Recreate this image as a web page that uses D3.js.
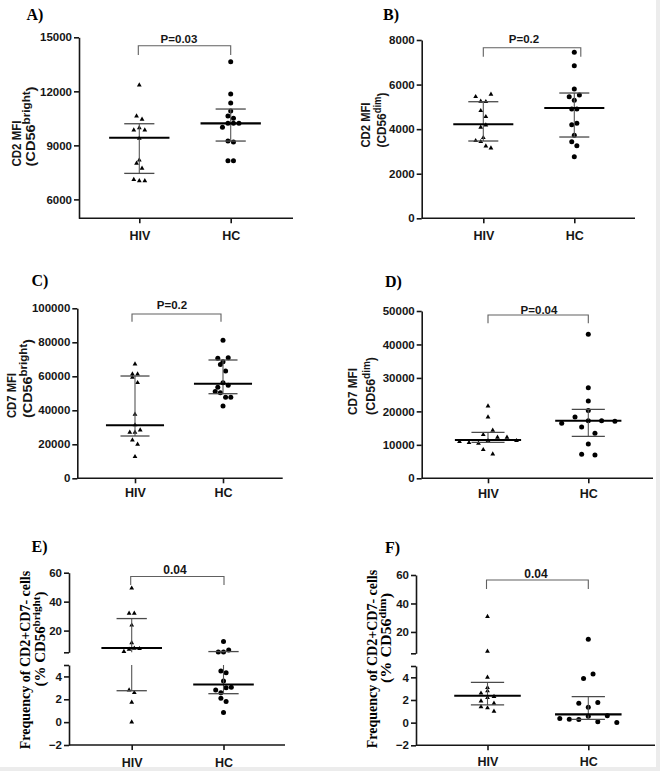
<!DOCTYPE html>
<html><head><meta charset="utf-8">
<script src="https://cdn.jsdelivr.net/npm/d3@7"></script>
<style>body{margin:0;background:#fff}svg{display:block}</style>
</head><body>
<svg id="c" width="660" height="771"></svg>
<script>
// ---------- data ----------
const groups = ["HIV", "HC"];

// A) CD2 MFI (CD56 bright)
const aTicks = [6000, 9000, 12000, 15000];
const aHIV = [12350, 10628, 10444, 9850, 9978, 9850, 9389, 8183, 8000, 7722, 7100, 7033, 7033];
const aHC = [13644, 11850, 11350, 10906, 10628, 10500, 10000, 10222, 10222, 10222, 9239, 9180, 8144, 8144];
const aMedian = [9422, 10222], aQ1 = [7444, 9239], aQ3 = [10200, 11017];
const aP = "P=0.03";

// B) CD2 MFI (CD56 dim)
const bTicks = [0, 2000, 4000, 6000, 8000];
const bHIV = [5455, 5249, 5231, 5563, 4827, 4558, 4082, 4185, 3616, 3481, 3436, 3243, 3154];
const bHC = [7447, 6846, 5800, 5455, 5300, 5531, 4900, 4900, 4199, 4262, 3723, 3436, 3257, 2763];
const bMedian = [4217, 4948], bQ1 = [3468, 3647], bQ3 = [5231, 5621];
const bP = "P=0.2";

// C) CD7 MFI (CD56 bright)
const cTicks = [0, 20000, 40000, 60000, 80000, 100000];
const cHIV = [67230, 61350, 61350, 59400, 56230, 37650, 31400, 27060, 27060, 28400, 22530, 20000, 12700];
const cHC = [81170, 70590, 68500, 70940, 67000, 63110, 53520, 56230, 54700, 51000, 50360, 47650, 47650, 42530];
const cMedian = [31170, 55650], cQ1 = [24880, 49760], cQ3 = [60170, 69590];
const cP = "P=0.2";

// D) CD7 MFI (CD56 dim)
const dTicks = [0, 10000, 20000, 30000, 40000, 50000];
const dHIV = [21610, 18320, 13030, 14350, 10940, 10640, 10450, 11240, 12250, 12250, 11240, 8550, 7260];
const dHC = [43040, 27080, 23100, 20300, 16440, 18320, 17220, 17220, 17040, 15330, 13500, 10250, 7170, 6960];
const dMedian = [11450, 17220], dQ1 = [10760, 12550], dQ3 = [13740, 20620];
const dP = "P=0.04";

// E) Frequency CD2+CD7- (% CD56 bright), broken axis
const brkTicksTop = [20, 40, 60], brkTicksBottom = [-2, 0, 2, 4];
const eHIV = [49.3, 31.9, 31.9, 23.7, 11.6, 5.5, 7.1, 7.8, 7.5, 2.81, 2.58, 1.74, 0];
const eHC = [12.5, 5.2, 5.2, 6.6, 4.47, 4.32, 3.6, 2.81, 2.58, 3.02, 3.05, 2.1, 1.8, 0.85];
const eMedian = [7.95, 3.29], eQ1 = [2.75, 2.49], eQ3 = [28.3, 5.5];
const eP = "0.04";

// F) Frequency CD2+CD7- (% CD56 dim), broken axis
const fHIV = [30.8, 6.4, 4.0, 3.1, 2.6, 2.8, 2.3, 1.9, 2.2, 1.7, 1.4, 1.3, 1.0];
const fHC = [14.8, 3.9, 4.3, 1.71, 1.36, 1.77, 0.37, 0.3, 0.28, 0.57, 0.07, 0.6, 0.02];
const fMedian = [2.37, 0.73], fQ1 = [1.56, 0.29], fQ3 = [3.55, 2.3];
const fP = "0.04";

// ---------- layout ----------
const panels = [
  {letter:"A)", lx:26.5, ly:20, hiv:aHIV, hc:aHC, med:aMedian, q1:aQ1, q3:aQ3, ticks:aTicks, p:aP,
   x0:79, x1:293, yTop:37.3, yBot:218.3, dom:[4950,15000], hivX:139.3, hcX:230.7, h:5.2, sp:[5.5,5.5],
   lab1:"CD2 MFI", sup:"bright", l1x:20.5, l2x:34.5, lStart:166.5, len1:46, len2:80,
   br:{y:45.7, d:9.3, x0:-1, x1:0}, pt:{x:179, y:43.3}, xlab:22},
  {letter:"B)", lx:383, ly:19.5, hiv:bHIV, hc:bHC, med:bMedian, q1:bQ1, q3:bQ3, ticks:bTicks, p:bP,
   x0:421.7, x1:635, yTop:40, yBot:218.3, dom:[0,8000], hivX:483.3, hcX:574.3, h:7.5, sp:[5.1,5.1],
   lab1:"CD2 MFI", sup:"dim", l1x:369.5, l2x:386, lStart:147.5, len1:45, len2:55,
   br:{y:47.7, d:9, x0:0, x1:6.5}, pt:{x:524, y:43.3}, xlab:22},
  {letter:"C)", lx:31.5, ly:286, hiv:cHIV, hc:cHC, med:cMedian, q1:cQ1, q3:cQ3, ticks:cTicks, p:cP,
   x0:77.3, x1:282.7, yTop:308.3, yBot:478.3, dom:[0,100000], hivX:135, hcX:223, h:7, sp:[5.2,5.2],
   lab1:"CD7 MFI", sup:"bright", l1x:16, l2x:31.5, lStart:418, len1:45, len2:79,
   br:{y:314, d:7.7, x0:-3, x1:-2}, pt:{x:172, y:309.3}, xlab:18.5},
  {letter:"D)", lx:385, ly:287, hiv:dHIV, hc:dHC, med:dMedian, q1:dQ1, q3:dQ3, ticks:dTicks, p:dP,
   x0:421.7, x1:653, yTop:311, yBot:478.3, dom:[0,50000], hivX:488, hcX:588.3, h:6.5, sp:[9.5,13.3],
   lab1:"CD7 MFI", sup:"dim", l1x:356.5, l2x:375, lStart:415, len1:47, len2:58,
   br:{y:315, d:8.3, x0:0, x1:0}, pt:{x:539, y:313.5}, xlab:20},
  {letter:"E)", lx:31.5, ly:551.5, hiv:eHIV, hc:eHC, med:eMedian, q1:eQ1, q3:eQ3, p:eP, broken:true,
   x0:69, x1:285, top:[652.3,572.7], bot:[745,665], hivX:131.7, hcX:223.5, h:5.5, sp:[5.2,5.2],
   sup:"bright", l1x:30, l2x:44.5, l1c:660, l2c:639, len2:95,
   br:{y:576.5, d:8.5, x0:-1, x1:0.5}, pt:{x:175, y:574}, xlab:21.5},
  {letter:"F)", lx:385, ly:552.5, hiv:fHIV, hc:fHC, med:fMedian, q1:fQ1, q3:fQ3, p:fP, broken:true,
   x0:416, x1:655, top:[653.3,575], bot:[745.3,666], hivX:487.5, hcX:588.3, h:6.6, sp:[6.5,9.5],
   sup:"dim", l1x:376.5, l2x:391, l1c:659, l2c:638, len2:90,
   br:{y:580, d:9, x0:-1, x1:0}, pt:{x:536, y:578.3}, xlab:21}
];

const BREAK = 5;
const svg = d3.select("#c");
svg.append("rect").attr("width",660).attr("height",771).attr("fill","#fff");
// faint scan margin at right and bottom edges
svg.append("rect").attr("x",656).attr("y",0).attr("width",4).attr("height",771).attr("fill","#ececec");
svg.append("rect").attr("x",0).attr("y",767).attr("width",660).attr("height",4).attr("fill","#ececec");

const SANS = "'Liberation Sans', Arial, Helvetica, sans-serif";
const SERIF = "'Liberation Serif', 'Times New Roman', serif";
const INK = "#161616";

function swarm(vals, yf, h, sp, cx) {
  const pts = vals.map((v, i) => ({v, i, y: yf(v)}));
  const sorted = pts.slice().sort((a, b) => (b.y - a.y) || (a.i - b.i));
  const bins = []; let cur = null;
  for (const p of sorted) {
    if (cur && cur.y0 - p.y <= h) cur.items.push(p);
    else { cur = {y0: p.y, items: [p]}; bins.push(cur); }
  }
  for (const b of bins) {
    b.items.sort((a, c) => a.i - c.i);
    const n = b.items.length;
    b.items.forEach((p, k) => p.x = cx + (k - (n - 1) / 2) * sp);
  }
  return pts;
}

const triPath = d3.symbol(d3.symbolTriangle, 10)();

panels.forEach(P => {
  const g = svg.append("g");
  let yf, yT, yB, yS;
  if (P.broken) {
    yT = d3.scaleLinear().domain([BREAK, 60]).range(P.top);
    yB = d3.scaleLinear().domain([-2, BREAK]).range(P.bot);
    yf = v => v >= BREAK ? yT(v) : yB(v);
  } else {
    yS = d3.scaleLinear().domain(P.dom).range([P.yBot, P.yTop]);
    yf = yS;
  }
  const xAxisY = P.broken ? P.bot[0] : P.yBot;
  const x = d3.scalePoint().domain(groups).range([P.hivX, P.hcX]);
  const step = P.hcX - P.hivX;

  const styleAxis = sel => {
    sel.selectAll(".domain").attr("stroke", INK).attr("stroke-width", 1.6);
    sel.selectAll(".tick line").attr("stroke", INK).attr("stroke-width", 1.6);
    sel.selectAll(".tick text").attr("fill", INK).style("font-family", SANS)
      .style("font-weight", "bold").style("font-size", "11.5px");
  };
  if (P.broken) {
    const at = d3.axisLeft(yT).tickValues([BREAK].concat(brkTicksTop)).tickSize(5).tickPadding(2)
      .tickSizeOuter(0).tickFormat(d => d === BREAK ? "" : d3.format("d")(d));
    const ab = d3.axisLeft(yB).tickValues(brkTicksBottom.concat([BREAK])).tickSize(5).tickPadding(2)
      .tickSizeOuter(0).tickFormat(d => d === BREAK ? "" : d3.format("d")(d));
    g.append("g").attr("transform", `translate(${P.x0},0)`).call(at).call(styleAxis);
    g.append("g").attr("transform", `translate(${P.x0},0)`).call(ab).call(styleAxis);
  } else {
    const ay = d3.axisLeft(yS).tickValues(P.ticks).tickSize(5).tickPadding(2).tickSizeOuter(0)
      .tickFormat(d3.format("d"));
    g.append("g").attr("transform", `translate(${P.x0},0)`).call(ay).call(styleAxis);
  }

  const ax = d3.axisBottom(x).tickSize(5).tickSizeOuter(0);
  const gx = g.append("g").attr("transform", `translate(0,${xAxisY})`).call(ax).call(styleAxis);
  gx.select(".domain").attr("d", `M${P.x0},0H${P.x1}`);
  gx.selectAll(".tick text").attr("y", P.xlab).attr("dy", null).style("font-size", "12.5px");

  [P.hiv, P.hc].forEach((vals, gi) => {
    const pts = swarm(vals, yf, P.h, P.sp[gi], x(groups[gi]));
    if (gi === 0) {
      g.append("g").selectAll("path").data(pts).join("path")
        .attr("d", triPath).attr("transform", d => `translate(${d.x},${d.y})`).attr("fill", "#000");
    } else {
      g.append("g").selectAll("circle").data(pts).join("circle")
        .attr("cx", d => d.x).attr("cy", d => d.y).attr("r", 2.5).attr("fill", "#000");
    }
  });

  groups.forEach((grp, gi) => {
    const cx = x(grp);
    const q1 = P.q1[gi], q3 = P.q3[gi], md = P.med[gi];
    const segs = [];
    if (P.broken && q1 < BREAK && q3 >= BREAK) {
      segs.push([yB(q1), yB(BREAK)]); segs.push([yT(BREAK), yT(q3)]);
    } else segs.push([yf(q1), yf(q3)]);
    segs.forEach(s => g.append("line").attr("x1", cx).attr("x2", cx).attr("y1", s[0]).attr("y2", s[1])
      .attr("stroke", "#555").attr("stroke-width", 1.1));
    [q1, q3].forEach(q => g.append("line").attr("x1", cx - 0.165 * step).attr("x2", cx + 0.165 * step)
      .attr("y1", yf(q)).attr("y2", yf(q)).attr("stroke", "#4a4a4a").attr("stroke-width", 1.3));
    g.append("line").attr("x1", cx - 0.33 * step).attr("x2", cx + 0.33 * step)
      .attr("y1", yf(md)).attr("y2", yf(md)).attr("stroke", "#000").attr("stroke-width", 2.1);
  });

  const bx0 = P.hivX + P.br.x0, bx1 = P.hcX + P.br.x1;
  g.append("path").attr("d", `M${bx0},${P.br.y + P.br.d}V${P.br.y}H${bx1}V${P.br.y + P.br.d}`)
    .attr("fill", "none").attr("stroke", "#606060").attr("stroke-width", 1.1);
  g.append("text").attr("x", P.pt.x).attr("y", P.pt.y).attr("text-anchor", "middle")
    .style("font-family", SANS).style("font-weight", "bold").style("font-size", P.broken ? "12px" : "11.5px")
    .attr("fill", INK).text(P.p);

  g.append("text").attr("x", P.lx).attr("y", P.ly).style("font-family", SERIF).style("font-weight", "bold")
    .style("font-size", "16px").attr("fill", "#000").text(P.letter);

  if (!P.broken) {
    g.append("text").attr("transform", `translate(${P.l1x},${P.lStart}) rotate(-90)`)
      .style("font-family", SANS).style("font-weight", "bold").style("font-size", "12.5px").attr("fill", INK)
      .attr("textLength", P.len1).attr("lengthAdjust", "spacingAndGlyphs")
      .text(P.lab1);
    const t2 = g.append("text").attr("transform", `translate(${P.l2x},${P.lStart}) rotate(-90)`)
      .style("font-family", SANS).style("font-weight", "bold").style("font-size", "12.5px").attr("fill", INK)
      .attr("textLength", P.len2).attr("lengthAdjust", "spacingAndGlyphs");
    t2.append("tspan").text("(CD56");
    t2.append("tspan").attr("dy", -5).style("font-size", "10px").text(P.sup);
    t2.append("tspan").attr("dy", 5).text(")");
  } else {
    g.append("text").attr("transform", `translate(${P.l1x},${P.l1c}) rotate(-90)`).attr("text-anchor", "middle")
      .style("font-family", SERIF).style("font-weight", "bold").style("font-size", "14px").attr("fill", "#000")
      .text("Frequency of CD2+CD7- cells");
    const t2 = g.append("text").attr("transform", `translate(${P.l2x},${P.l2c}) rotate(-90)`).attr("text-anchor", "middle")
      .style("font-family", SERIF).style("font-weight", "bold").style("font-size", "14px").attr("fill", "#000")
      .attr("textLength", P.len2).attr("lengthAdjust", "spacingAndGlyphs");
    t2.append("tspan").text("(% CD56");
    t2.append("tspan").attr("dy", -5).style("font-size", "10.5px").text(P.sup);
    t2.append("tspan").attr("dy", 5).text(")");
  }
});
</script>
</body></html>
